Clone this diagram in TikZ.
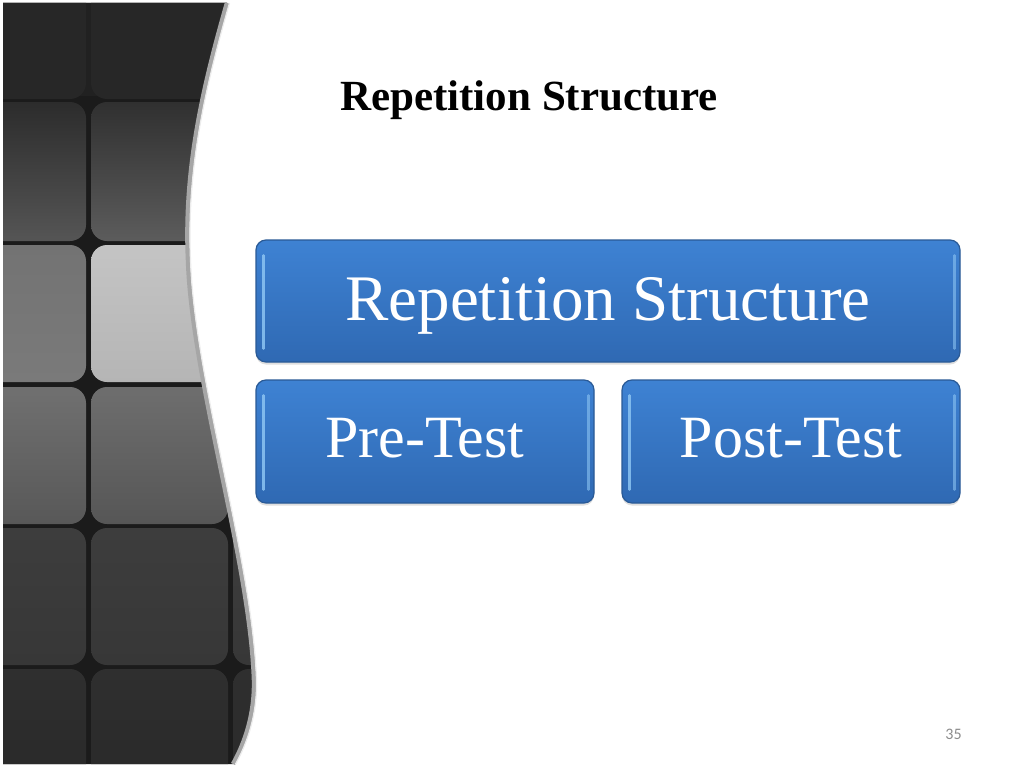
\documentclass[tikz,border=0pt]{standalone}
\usepackage{fontspec}
\setmainfont{Liberation Serif}
\newfontfamily\numfont{Carlito}
\usetikzlibrary{calc,shadows}
\definecolor{gapc}{HTML}{1B1B1B}
\definecolor{boxtop}{HTML}{3E82D3}
\definecolor{boxbot}{HTML}{2F69B3}
\definecolor{boxline}{HTML}{2A5A96}
\definecolor{boxhl}{HTML}{8CC4F2}
\definecolor{edgec}{HTML}{A6A6A6}
\tikzset{
  tile/.style={rounded corners=16pt},
  bluebox/.style={draw=boxline, line width=1.2pt, rounded corners=10pt,
    top color=boxtop, bottom color=boxbot, text=white,
    drop shadow={opacity=0.25, shadow xshift=0pt, shadow yshift=-2.5pt},
    inner sep=0pt},
  hl/.style={draw=boxhl, line width=2.5pt, line cap=round, opacity=0.85},
  boxtext/.style={font=\fontsize{65}{70}\selectfont},
  boxtextsm/.style={font=\fontsize{60}{64}\selectfont},
}
\begin{document}
\begin{tikzpicture}[x=1pt,y=-1pt]
\useasboundingbox (0,0) rectangle (1024,768);
\fill[white] (0,0) rectangle (1024,768);
% left panel
\begin{scope}
\clip (3,3) -- (227,3) .. controls (202,90) and (184,170) .. (188,260)
  .. controls (192,380) and (250,560) .. (254,680)
  .. controls (255,720) and (241,750) .. (233,764) -- (3,764) -- cycle;
\fill[gapc] (0,0) rectangle (300,768);
\fill[color={rgb,255:red,33;green,33;blue,33}] (0,0) rectangle (300,96);
% row 0
\foreach \xa/\xb in {-60/86,91/228,233/370}
  \fill[tile, color={rgb,255:red,39;green,39;blue,39}] (\xa,-40) rectangle (\xb,99);
% row 1
\shade[tile, top color={rgb,255:red,44;green,44;blue,44}, bottom color={rgb,255:red,85;green,85;blue,85}] (-60,102) rectangle (86,241);
\shade[tile, top color={rgb,255:red,48;green,48;blue,48}, bottom color={rgb,255:red,92;green,92;blue,92}] (91,102) rectangle (228,241);
\shade[tile, top color={rgb,255:red,48;green,48;blue,48}, bottom color={rgb,255:red,92;green,92;blue,92}] (233,102) rectangle (370,241);
% row 2
\shade[tile, top color={rgb,255:red,115;green,115;blue,115}, bottom color={rgb,255:red,122;green,122;blue,122}] (-60,245) rectangle (86,382);
\shade[tile, top color={rgb,255:red,196;green,196;blue,196}, bottom color={rgb,255:red,181;green,181;blue,181}] (91,245) rectangle (228,382);
\shade[tile, top color={rgb,255:red,190;green,190;blue,190}, bottom color={rgb,255:red,178;green,178;blue,178}] (233,245) rectangle (370,382);
% row 3
\shade[tile, top color={rgb,255:red,112;green,112;blue,112}, bottom color={rgb,255:red,88;green,88;blue,88}] (-60,387) rectangle (86,524);
\shade[tile, top color={rgb,255:red,110;green,110;blue,110}, bottom color={rgb,255:red,86;green,86;blue,86}] (91,387) rectangle (228,524);
\shade[tile, top color={rgb,255:red,100;green,100;blue,100}, bottom color={rgb,255:red,80;green,80;blue,80}] (233,387) rectangle (370,524);
% row 4
\foreach \xa/\xb in {-60/86,91/228,233/370}
  \shade[tile, top color={rgb,255:red,61;green,61;blue,61}, bottom color={rgb,255:red,55;green,55;blue,55}] (\xa,528) rectangle (\xb,665);
% row 5
\foreach \xa/\xb in {-60/86,91/228,233/370}
  \shade[tile, top color={rgb,255:red,47;green,47;blue,47}, bottom color={rgb,255:red,40;green,40;blue,40}] (\xa,669) rectangle (\xb,810);
\end{scope}
% panel edge strip
\draw[edgec, line width=4.5pt] (227,3) .. controls (202,90) and (184,170) .. (188,260)
  .. controls (192,380) and (250,560) .. (254,680)
  .. controls (255,720) and (241,750) .. (233,764);
\draw[white!85!gray, line width=1.2pt] (229.5,3) .. controls (204.5,90) and (186.5,170) .. (190.5,260)
  .. controls (194.5,380) and (252.5,560) .. (256.5,680)
  .. controls (257.5,720) and (243.5,750) .. (235.5,764);
% title
\node[anchor=base west, inner sep=0pt, font=\fontsize{43}{48}\selectfont\bfseries] (title) at (340,110) {Repetition Structure};
% boxes
\node[bluebox, boxtext, minimum width=704pt, minimum height=122pt, text height=44pt, text depth=6pt] (top) at (608,301) {Repetition Structure};
\node[bluebox, boxtextsm, minimum width=338pt, minimum height=123pt, text height=40pt, text depth=9pt] (pre) at (425,441.5) {Pre-Test};
\node[bluebox, boxtextsm, minimum width=338pt, minimum height=123pt, text height=40pt, text depth=9pt] (post) at (791,441.5) {Post-Test};
% highlights
\foreach \b in {top,pre,post}{
  \draw[hl] ($(\b.north west)+(8,16)$) -- ($(\b.south west)+(8,-14)$);
  \draw[hl, opacity=0.6] ($(\b.north east)+(-6,16)$) -- ($(\b.south east)+(-6,-14)$);
}
% page number
\node[font=\numfont\fontsize{16}{18}\selectfont, text={rgb,255:red,140;green,140;blue,140}, anchor=base] (pg) at (953.5,739) {35};
\end{tikzpicture}
\end{document}
